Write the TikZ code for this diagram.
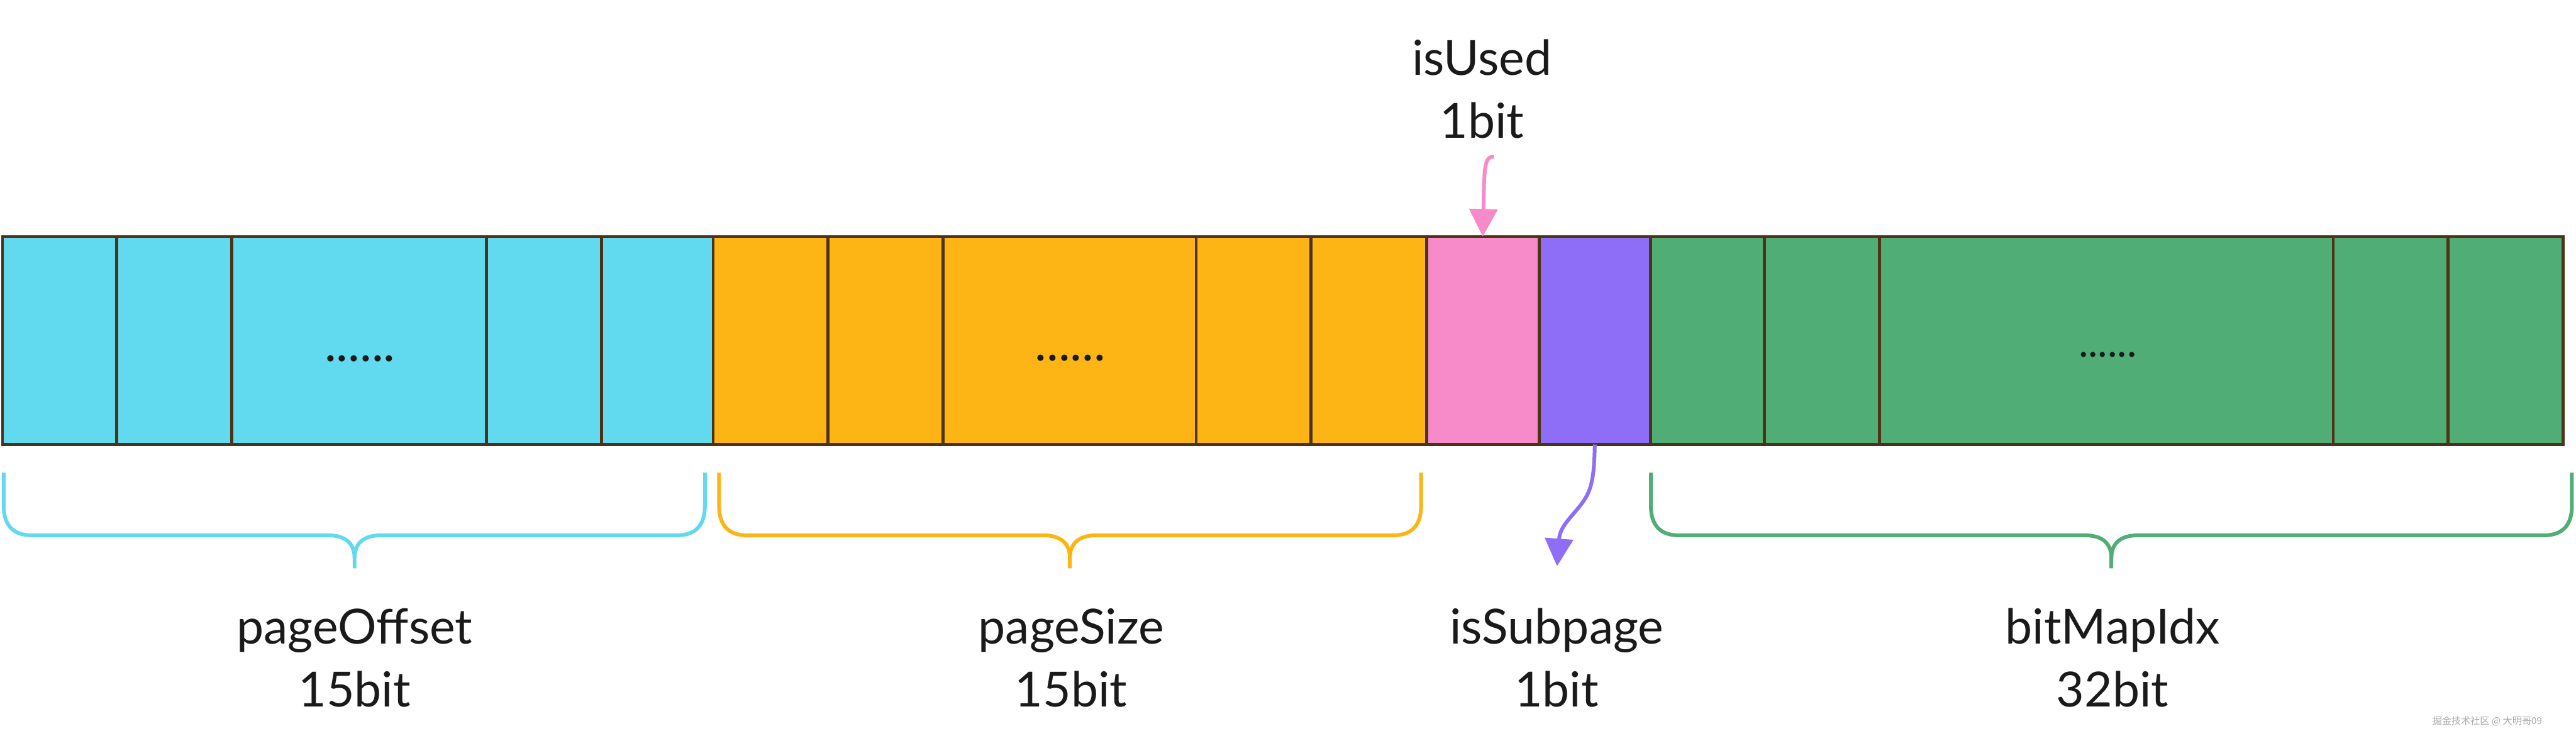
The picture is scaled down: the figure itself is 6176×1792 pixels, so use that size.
\documentclass[tikz,border=0pt]{standalone}
\usepackage{fontspec}
\setmainfont{Lato}
\newfontfamily\cjkfont{Noto Sans CJK SC}
\usetikzlibrary{arrows.meta}
\definecolor{cyanc}{HTML}{61D9EE}
\definecolor{yellowc}{HTML}{FDB515}
\definecolor{pinkc}{HTML}{F78AC8}
\definecolor{purplec}{HTML}{8F6EF7}
\definecolor{greenc}{HTML}{50AD76}
\definecolor{borderc}{HTML}{4E3217}
\definecolor{textc}{HTML}{1A1A1A}
\definecolor{wmgray}{HTML}{A8A8A8}
\newcommand\fcell[4]{\node[cell, fill=#4, minimum width={(#3-#2)*0.01cm}] (#1) at (#2,567) {};}
\newcommand\fbrace[4]{%
  \draw[bracestyle, draw=#4] (#1,1133) -- (#1,1213) .. controls (#1,1258) and ({#1+22},1283) .. ({#1+66},1283)
     -- ({#3-64},1283) .. controls ({#3-24},1283) and (#3,1300) .. (#3,1338) -- (#3,1362);
  \draw[bracestyle, draw=#4] (#2,1133) -- (#2,1213) .. controls (#2,1258) and ({#2-22},1283) .. ({#2-66},1283)
     -- ({#3+64},1283) .. controls ({#3+24},1283) and (#3,1300) .. (#3,1338);}
\begin{document}
\begin{tikzpicture}[x=0.01cm,y=-0.01cm,
  cell/.style={draw=borderc, line width=0.07cm, inner sep=0pt, outer sep=0pt,
    minimum height=4.98cm, anchor=north west},
  lab/.style={text=textc, inner sep=0pt, align=center, anchor=south,
    font=\fontsize{33}{42.96}\selectfont},
  dotsbig/.style={text=textc, inner sep=0pt, font=\fontsize{34}{40}\selectfont},
  dotssmall/.style={text=textc, inner sep=0pt, font=\fontsize{28}{34}\selectfont},
  bracestyle/.style={line width=0.09cm},
  pinkarrow/.style={draw=pinkc, line width=0.09cm, -{Triangle[width=0.67cm,length=0.66cm]}},
  purplearrow/.style={draw=purplec, line width=0.09cm, -{Triangle[width=0.67cm,length=0.66cm]}}]
\useasboundingbox (0,0) rectangle (6176,1792);
% cells
\fcell{c1}{6}{280}{cyanc}
\fcell{c2}{280}{556}{cyanc}
\fcell{c3}{556}{1166}{cyanc}
\fcell{c4}{1166}{1442}{cyanc}
\fcell{c5}{1442}{1710}{cyanc}
\fcell{y1}{1710}{1985}{yellowc}
\fcell{y2}{1985}{2261}{yellowc}
\fcell{y3}{2261}{2868}{yellowc}
\fcell{y4}{2868}{3143}{yellowc}
\fcell{y5}{3143}{3420}{yellowc}
\fcell{used}{3420}{3690}{pinkc}
\fcell{sub}{3690}{3957}{purplec}
\fcell{g1}{3957}{4230}{greenc}
\fcell{g2}{4230}{4506}{greenc}
\fcell{g3}{4506}{5594}{greenc}
\fcell{g4}{5594}{5869}{greenc}
\fcell{g5}{5869}{6145}{greenc}
% dots
\node[dotsbig] (d1) at (863,859) {......};
\node[dotsbig] (d2) at (2566,858) {......};
\node[dotssmall] (d3) at (5053,850) {......};
% braces
\fbrace{9}{1690}{850}{cyanc}
\fbrace{1724}{3407}{2565}{yellowc}
\fbrace{3958}{6166}{5062}{greenc}
% labels
\node[lab] (usedl) at (3553,333) {isUsed\\1bit};
\node[lab] (offl) at (850,1696) {pageOffset\\15bit};
\node[lab] (sizel) at (2568,1696) {pageSize\\15bit};
\node[lab] (subl) at (3732,1696) {isSubpage\\1bit};
\node[lab] (idxl) at (5065,1696) {bitMapIdx\\32bit};
% arrows
\coordinate (ustart) at (3582,375);
\draw[pinkarrow] (ustart) .. controls (3562,375) and (3560,395) .. (3558,440) -- (used.north);
\coordinate (stip) at (3733,1357);
\draw[purplearrow] (sub.south) .. controls (3822,1160) and (3812,1180) .. (3790,1210)
   .. controls (3765,1242) and (3740,1262) .. (stip);
% watermark
\node[font=\cjkfont\fontsize{6.5}{8}\selectfont, text=wmgray, inner sep=0pt] (wm) at (5963,1728) {掘金技术社区 @ 大明哥09};
\end{tikzpicture}
\end{document}
